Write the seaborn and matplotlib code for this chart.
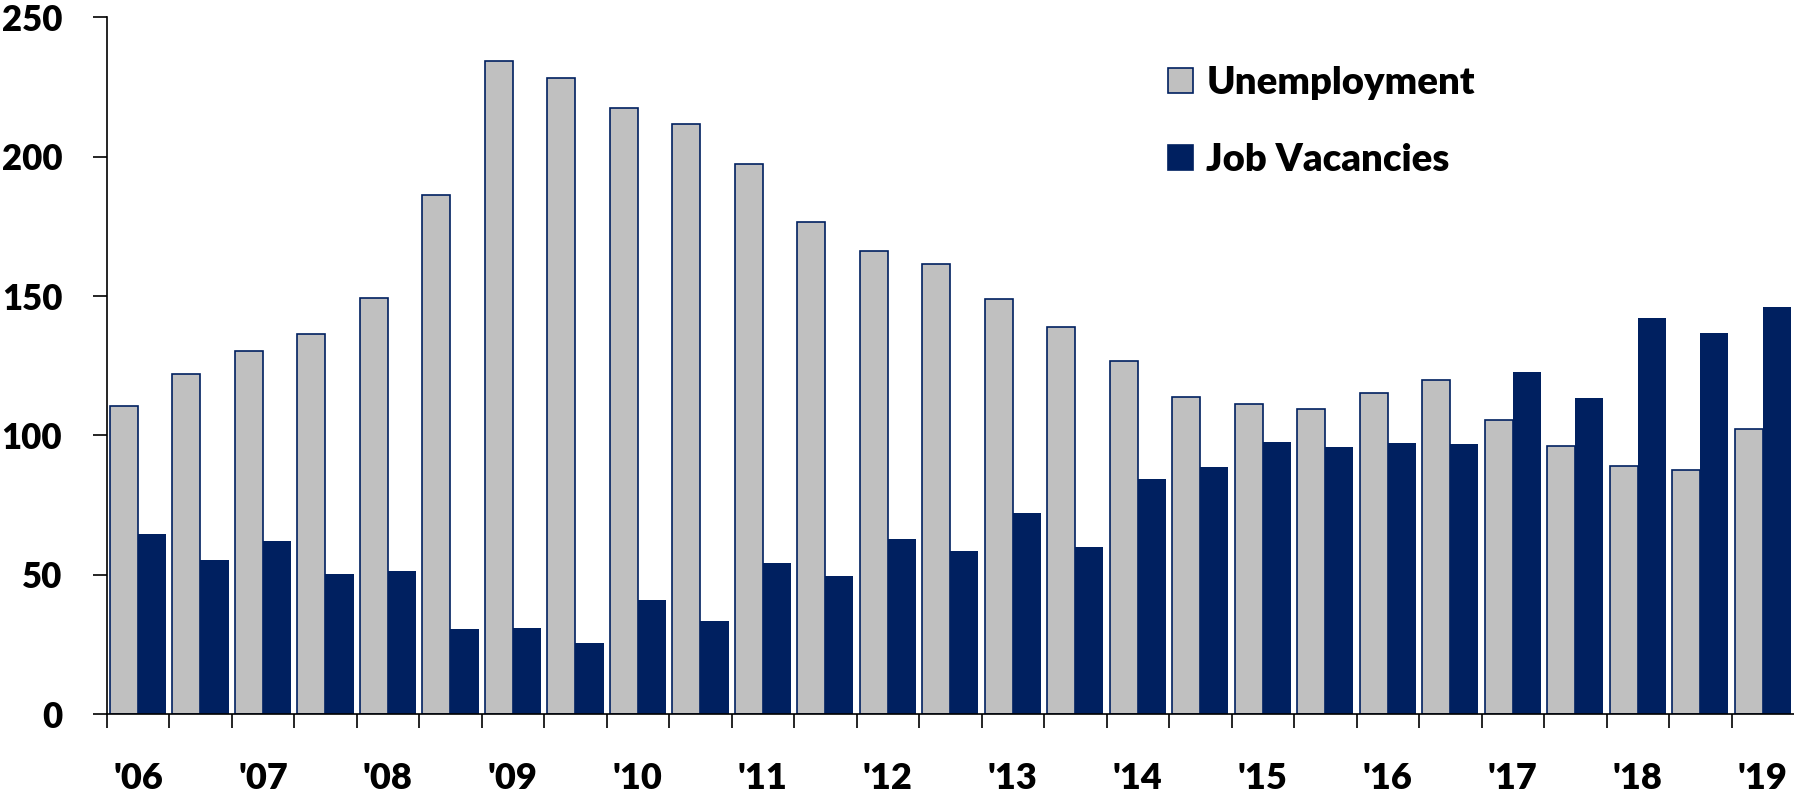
import matplotlib
matplotlib.use("Agg")
import matplotlib.pyplot as plt
from matplotlib.patches import Patch
import pandas as pd
import seaborn as sns

# half-yearly periods, '06 H1 .. '19 H1
periods = [f"{y}H{h}" for y in range(2006, 2020) for h in (1, 2)][:27]
year_labels = ["'06", "'07", "'08", "'09", "'10", "'11", "'12",
               "'13", "'14", "'15", "'16", "'17", "'18", "'19"]

unemployment = [110.6, 122.2, 130.3, 136.4, 149.2, 186.3, 234.3, 228.1, 217.5,
                211.7, 197.4, 176.5, 166.1, 161.6, 148.9, 139.0, 126.8, 113.9,
                111.3, 109.5, 115.2, 120.0, 105.6, 96.3, 88.9, 87.5, 102.3]
vacancies = [64.6, 55.5, 62.2, 50.3, 51.5, 30.7, 31.1, 25.5, 41.1,
             33.5, 54.4, 49.7, 62.8, 58.6, 72.2, 60.1, 84.4, 88.7,
             97.7, 95.9, 97.3, 97.1, 122.8, 113.6, 142.0, 136.8, 146.2]

series = ["Unemployment", "Job Vacancies"]
colors = {"Unemployment": "#C0C0C0", "Job Vacancies": "#002060"}
navy = "#002060"

df = pd.DataFrame({
    "period": periods * 2,
    "series": [series[0]] * len(periods) + [series[1]] * len(periods),
    "value": unemployment + vacancies,
})

sns.set_style("ticks")
fonts = ["Lato", "DejaVu Sans"]
plt.rcParams["font.family"] = fonts
plt.rcParams["font.weight"] = "heavy"
plt.rcParams["text.color"] = "black"
plt.rcParams["xtick.color"] = "black"
plt.rcParams["ytick.color"] = "black"

W, H = 1794, 791
fig = plt.figure(figsize=(W / 100, H / 100), dpi=100)
x0, y0, x1, y1 = 106.7, 714.3, 1794, 17.3
ax = fig.add_axes([x0 / W, 1 - y0 / H, (x1 - x0) / W, (y0 - y1) / H])

sns.barplot(data=df, x="period", y="value", hue="series", order=periods,
            hue_order=series, palette=colors, width=0.9, gap=0,
            saturation=1, linewidth=0, legend=False, ax=ax)

for bar in ax.containers[0]:
    bar.set_edgecolor(navy)
    bar.set_linewidth(1.2)

ax.set_xlim(-0.5, len(periods) - 0.5)
ax.set_ylim(0, 250)
ax.set_yticks(range(0, 251, 50))
ax.set_xticks(range(0, len(periods), 2))
ax.set_xticklabels(year_labels)
ax.set_xticks([i - 0.5 for i in range(len(periods))], minor=True)
ax.tick_params(axis="x", which="major", length=0, pad=34, labelsize=26,
               labelcolor="black")
ax.tick_params(axis="x", which="minor", length=10, width=1.2, color="black")
ax.tick_params(axis="y", length=10, width=1.2, pad=22, labelsize=25,
               color="black", labelcolor="black")
for lab in ax.get_xticklabels() + ax.get_yticklabels():
    lab.set_fontweight("heavy")
ax.set_xlabel("")
ax.set_ylabel("")
sns.despine(ax=ax, top=True, right=True)
for s in ("left", "bottom"):
    ax.spines[s].set_linewidth(1.2)
    ax.spines[s].set_color("black")

handles = [Patch(facecolor=colors[s], edgecolor=navy, linewidth=1.2, label=s)
           for s in series]
leg = fig.legend(handles=handles, loc="upper left",
                 bbox_to_anchor=(1168 / W, 1 - 66 / H), frameon=False,
                 prop={"family": fonts, "weight": "heavy", "size": 27.5},
                 handlelength=0.65, handleheight=0.65, handletextpad=0.35,
                 labelspacing=1.13, borderpad=0, borderaxespad=0)
for t in leg.get_texts():
    t.set_color("black")

fig.savefig("out.png", dpi=100)
